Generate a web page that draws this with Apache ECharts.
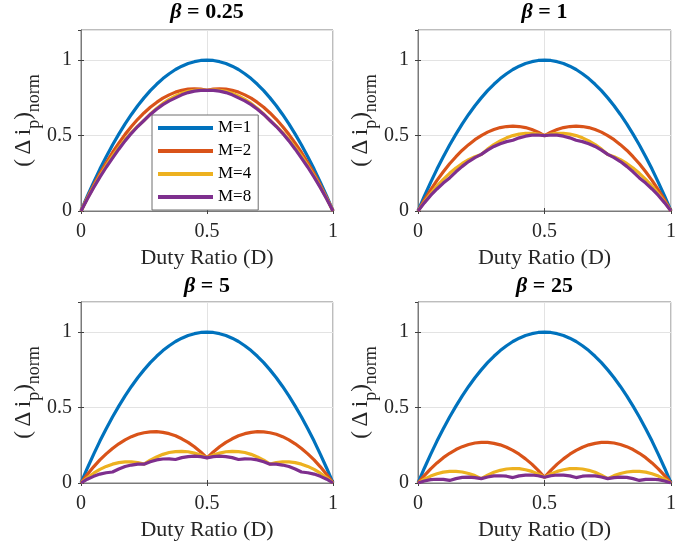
<!DOCTYPE html>
<html>
<head>
<meta charset="utf-8">
<script src="https://cdn.jsdelivr.net/npm/echarts@6/dist/echarts.min.js"></script>
<style>html,body{margin:0;padding:0;background:#fff}#c{width:697px;height:546px}</style>
</head>
<body>
<div id="c"></div>
<script>
// Duty ratio samples (x)
const duty = [0,0.025,0.05,0.075,0.1,0.125,0.15,0.175,0.2,0.225,0.25,0.275,0.3,0.325,0.35,0.375,0.4,0.425,0.45,0.475,0.5,
  0.525,0.55,0.575,0.6,0.625,0.65,0.675,0.7,0.725,0.75,0.775,0.8,0.825,0.85,0.875,0.9,0.925,0.95,0.975,1];

const seriesNames = ['M=1','M=2','M=4','M=8'];
const panelTitles = ['0.25','1','5','25'];
const xTicks = [0, 0.5, 1];
const yTicks = [0, 0.5, 1];

// M=1 (same in all panels)
const m1 = [0,0.098,0.19,0.278,0.36,0.438,0.51,0.578,0.64,0.698,0.75,0.798,0.84,0.878,0.91,0.938,0.96,0.978,0.99,0.998,1,
  0.998,0.99,0.978,0.96,0.938,0.91,0.878,0.84,0.798,0.75,0.698,0.64,0.578,0.51,0.438,0.36,0.278,0.19,0.098,0];

// beta = 0.25
const b025_m2 = [0,0.088,0.17,0.248,0.32,0.388,0.45,0.508,0.56,0.608,0.65,0.688,0.72,0.748,0.77,0.788,0.8,0.808,0.81,0.808,0.8,
  0.808,0.81,0.808,0.8,0.788,0.77,0.748,0.72,0.688,0.65,0.608,0.56,0.508,0.45,0.388,0.32,0.248,0.17,0.088,0];
const b025_m4 = [0,0.083,0.16,0.233,0.3,0.363,0.42,0.473,0.52,0.563,0.6,0.643,0.68,0.713,0.74,0.763,0.78,0.793,0.8,0.803,0.8,
  0.803,0.8,0.793,0.78,0.763,0.74,0.713,0.68,0.643,0.6,0.563,0.52,0.473,0.42,0.363,0.3,0.233,0.16,0.083,0];
const b025_m8 = [0,0.08,0.155,0.225,0.29,0.35,0.41,0.465,0.515,0.56,0.6,0.64,0.675,0.705,0.73,0.75,0.77,0.785,0.795,0.8,0.8,
  0.8,0.795,0.785,0.77,0.75,0.73,0.705,0.675,0.64,0.6,0.56,0.515,0.465,0.41,0.35,0.29,0.225,0.155,0.08,0];

// beta = 1
const b1_m2 = [0,0.073,0.14,0.203,0.26,0.313,0.36,0.403,0.44,0.473,0.5,0.523,0.54,0.553,0.56,0.563,0.56,0.553,0.54,0.523,0.5,
  0.523,0.54,0.553,0.56,0.563,0.56,0.553,0.54,0.523,0.5,0.473,0.44,0.403,0.36,0.313,0.26,0.203,0.14,0.073,0];
const b1_m4 = [0,0.06,0.115,0.165,0.21,0.25,0.285,0.315,0.34,0.36,0.375,0.41,0.44,0.465,0.485,0.5,0.51,0.515,0.515,0.51,0.5,
  0.51,0.515,0.515,0.51,0.5,0.485,0.465,0.44,0.41,0.375,0.36,0.34,0.315,0.285,0.25,0.21,0.165,0.115,0.06,0];
const b1_m8 = [0,0.054,0.103,0.146,0.185,0.219,0.26,0.296,0.328,0.354,0.375,0.404,0.428,0.446,0.46,0.469,0.485,0.496,0.503,0.504,0.5,
  0.504,0.503,0.496,0.485,0.469,0.46,0.446,0.428,0.404,0.375,0.354,0.328,0.296,0.26,0.219,0.185,0.146,0.103,0.054,0];

// beta = 5
const b5_m2 = [0,0.056,0.107,0.153,0.193,0.229,0.26,0.286,0.307,0.323,0.333,0.339,0.34,0.336,0.327,0.313,0.293,0.269,0.24,0.206,0.167,
  0.206,0.24,0.269,0.293,0.313,0.327,0.336,0.34,0.339,0.333,0.323,0.307,0.286,0.26,0.229,0.193,0.153,0.107,0.056,0];
const b5_m4 = [0,0.035,0.065,0.09,0.11,0.125,0.135,0.14,0.14,0.135,0.125,0.152,0.173,0.19,0.202,0.208,0.21,0.207,0.198,0.185,0.167,
  0.185,0.198,0.207,0.21,0.208,0.202,0.19,0.173,0.152,0.125,0.135,0.14,0.14,0.135,0.125,0.11,0.09,0.065,0.035,0];
const b5_m8 = [0,0.025,0.044,0.059,0.068,0.073,0.093,0.109,0.119,0.125,0.125,0.141,0.153,0.159,0.16,0.156,0.168,0.175,0.178,0.175,0.167,
  0.175,0.178,0.175,0.168,0.156,0.16,0.159,0.153,0.141,0.125,0.125,0.119,0.109,0.093,0.073,0.068,0.059,0.044,0.025,0];

// beta = 25
const b25_m2 = [0,0.049,0.094,0.133,0.168,0.197,0.222,0.241,0.255,0.265,0.269,0.269,0.263,0.253,0.237,0.216,0.191,0.16,0.125,0.084,0.038,
  0.084,0.125,0.16,0.191,0.216,0.237,0.253,0.263,0.269,0.269,0.265,0.255,0.241,0.222,0.197,0.168,0.133,0.094,0.049,0];
const b25_m4 = [0,0.025,0.046,0.061,0.072,0.077,0.077,0.073,0.063,0.049,0.029,0.052,0.071,0.084,0.093,0.096,0.095,0.088,0.077,0.06,0.038,
  0.06,0.077,0.088,0.095,0.096,0.093,0.084,0.071,0.052,0.029,0.049,0.063,0.073,0.077,0.077,0.072,0.061,0.046,0.025,0];
const b25_m8 = [0,0.013,0.022,0.025,0.024,0.017,0.029,0.037,0.039,0.036,0.029,0.04,0.047,0.048,0.045,0.036,0.047,0.052,0.053,0.048,0.038,
  0.048,0.053,0.052,0.047,0.036,0.045,0.048,0.047,0.04,0.029,0.036,0.039,0.037,0.029,0.017,0.024,0.025,0.022,0.013,0];

const panels = [
  [m1, b025_m2, b025_m4, b025_m8],
  [m1, b1_m2, b1_m4, b1_m8],
  [m1, b5_m2, b5_m4, b5_m8],
  [m1, b25_m2, b25_m4, b25_m8]
];

const colors = ['#0072BD','#D95319','#EDB120','#7E2F8E'];
const FONT = "'Liberation Serif', 'Times New Roman', serif";
const gridPos = [
  {left: 81, top: 30, width: 252, height: 181},
  {left: 418, top: 30, width: 253, height: 181},
  {left: 81, top: 302, width: 252, height: 181},
  {left: 418, top: 302, width: 253, height: 181}
];

const grids = [], xAxes = [], yAxes = [], series = [], graphics = [];
gridPos.forEach((g, p) => {
  grids.push(Object.assign({show: true, borderColor: '#7a7a7a', borderWidth: 1, backgroundColor: '#fff'}, g));
  xAxes.push({
    type: 'value', gridIndex: p, min: xTicks[0], max: xTicks[xTicks.length - 1], interval: 0.5,
    name: 'Duty Ratio (D)', nameLocation: 'middle', nameGap: 36,
    nameTextStyle: {fontFamily: FONT, fontSize: 22, color: '#262626'},
    axisLine: {show: true, lineStyle: {color: '#7a7a7a', width: 1}},
    axisTick: {show: true, inside: true, length: 3, lineStyle: {color: '#404040'}},
    axisLabel: {fontFamily: FONT, fontSize: 20, color: '#262626', margin: 11},
    splitLine: {show: true, lineStyle: {color: '#e3e3e3', width: 1}}
  });
  xAxes.push({
    type: 'value', gridIndex: p, position: 'top', min: 0, max: 1, interval: 0.5,
    axisLine: {show: true, lineStyle: {color: '#7a7a7a', width: 1}},
    axisTick: {show: true, inside: true, length: 3, lineStyle: {color: '#404040'}},
    axisLabel: {show: false}, splitLine: {show: false}
  });
  yAxes.push({
    type: 'value', gridIndex: p, min: 0, max: 1.2, interval: 0.5,
    name: '{a|(\u2009Δ\u2009i}{s|p}{a|)}{s|norm}', nameLocation: 'middle', nameRotate: 90, nameGap: 38,
    nameTextStyle: {
      rich: {
        a: {fontFamily: FONT, fontSize: 23, color: '#262626', lineHeight: 38, verticalAlign: 'middle'},
        s: {fontFamily: FONT, fontSize: 18, color: '#262626', lineHeight: 17, verticalAlign: 'bottom'}
      }
    },
    axisLine: {show: true, lineStyle: {color: '#7a7a7a', width: 1}},
    axisTick: {show: true, inside: true, length: 3, lineStyle: {color: '#404040'}},
    axisLabel: {fontFamily: FONT, fontSize: 20, color: '#262626', margin: 9, showMaxLabel: false},
    splitLine: {show: true, lineStyle: {color: '#e3e3e3', width: 1}}
  });
  yAxes.push({
    type: 'value', gridIndex: p, position: 'right', min: 0, max: 1.2, interval: 0.5,
    axisLine: {show: true, lineStyle: {color: '#7a7a7a', width: 1}},
    axisTick: {show: true, inside: true, length: 3, lineStyle: {color: '#404040'}},
    axisLabel: {show: false}, splitLine: {show: false}
  });
  panels[p].forEach((arr, k) => {
    series.push({
      type: 'line', name: seriesNames[k], xAxisIndex: 2 * p, yAxisIndex: 2 * p,
      data: duty.map((d, i) => [d, arr[i]]),
      showSymbol: false, symbol: 'none', animation: false,
      lineStyle: {width: 3.2, color: colors[k]}, itemStyle: {color: colors[k]}, z: 3 + k
    });
  });
  graphics.push({
    type: 'text',
    x: g.left + g.width / 2, y: p < 2 ? 12 : 286,
    style: {
      text: '{b|β}{t| = ' + panelTitles[p] + '}',
      align: 'center', verticalAlign: 'middle',
      rich: {
        b: {fontFamily: FONT, fontSize: 22, fontWeight: 'bold', fontStyle: 'italic', fill: '#000'},
        t: {fontFamily: FONT, fontSize: 22, fontWeight: 'bold', fill: '#000'}
      }
    }
  });
});

const chart = echarts.init(document.getElementById('c'), null, {renderer: 'canvas'});
chart.setOption({
  animation: false,
  backgroundColor: '#fff',
  grid: grids, xAxis: xAxes, yAxis: yAxes, series: series,
  legend: {
    data: seriesNames, orient: 'vertical', left: 152, top: 115,
    padding: [3, 7, 3, 6], itemGap: 3, itemWidth: 55, itemHeight: 4, itemTextGap: 5,
    icon: 'rect', backgroundColor: '#fff', borderColor: '#6e6e6e', borderWidth: 1,
    textStyle: {fontFamily: FONT, fontSize: 17, color: '#000', lineHeight: 20}
  },
  graphic: graphics
});
</script>
</body>
</html>
